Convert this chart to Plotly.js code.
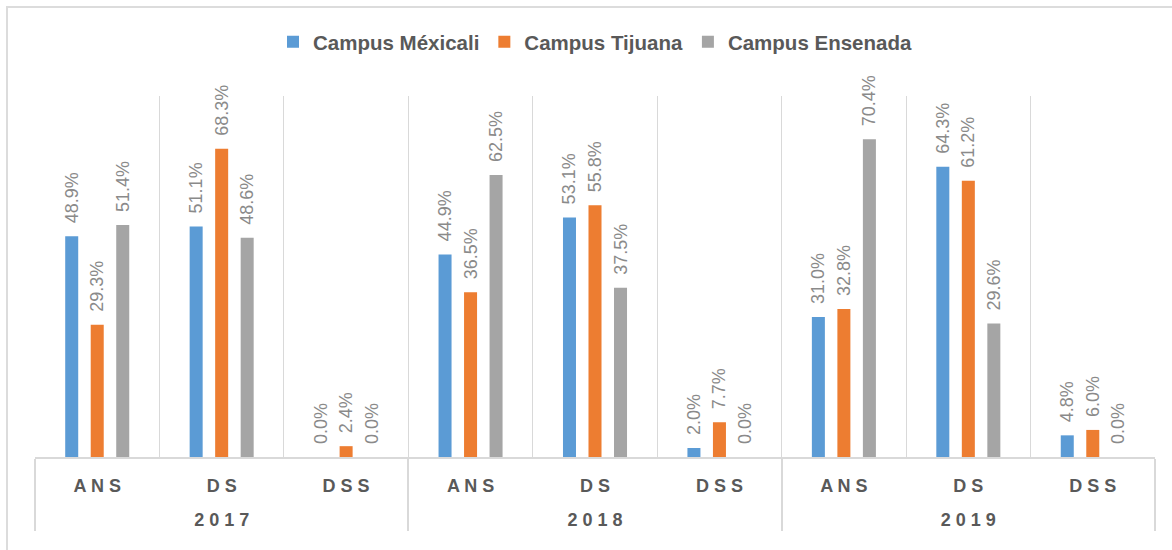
<!DOCTYPE html>
<html>
<head>
<meta charset="utf-8">
<script src="https://cdn.plot.ly/plotly-3.0.1.min.js"></script>
<style>
  html, body { margin: 0; padding: 0; background: #ffffff; }
  #wrap { position: relative; width: 1172px; height: 550px; overflow: hidden; }
  #chart { width: 1172px; height: 550px; }
  #frame { position: absolute; left: 6px; top: 6px; width: 1300px; height: 700px;
           border: 2px solid #dcdcdc; pointer-events: none; }
</style>
</head>
<body>
<div id="wrap">
  <div id="chart"></div>
  <div id="frame"></div>
</div>
<script>
// ---- data ----
const years = ["2 0 1 7", "2 0 1 8", "2 0 1 9"];
const categories = ["A N S", "D S", "D S S"];
const seriesNames = ["Campus Méxicali", "Campus Tijuana", "Campus Ensenada"];
const seriesColors = ["#5b9bd5", "#ed7d31", "#a5a5a5"];

// values in %, ordered 2017 ANS, DS, DSS, 2018 ANS, DS, DSS, 2019 ANS, DS, DSS
const mexicali = [48.9, 51.1, 0.0, 44.9, 53.1, 2.0, 31.0, 64.3, 4.8];
const tijuana  = [29.3, 68.3, 2.4, 36.5, 55.8, 7.7, 32.8, 61.2, 6.0];
const ensenada = [51.4, 48.6, 0.0, 62.5, 37.5, 0.0, 70.4, 29.6, 0.0];

const seriesValues = [mexicali, tijuana, ensenada];

// ---- build multicategory x ----
const xYears = [], xCats = [];
years.forEach(y => categories.forEach(c => { xYears.push("<br>" + y); xCats.push(c); }));

const pad = "\u00a0\u00a0";
const traces = seriesValues.map((vals, i) => ({
  type: "bar",
  name: seriesNames[i],
  x: [xYears, xCats],
  y: vals,
  marker: { color: seriesColors[i] },
  text: vals.map(v => pad + v.toFixed(1) + "%"),
  textposition: "outside",
  textangle: -90,
  constraintext: "none",
  cliponaxis: false,
  textfont: { family: "Liberation Sans, Arial, sans-serif", size: 18, color: "#8a8a8a" },
  hoverinfo: "skip"
}));

const layout = {
  width: 1172,
  height: 550,
  margin: { l: 35, r: 17, t: 96, b: 93 },
  paper_bgcolor: "#ffffff",
  plot_bgcolor: "#ffffff",
  barmode: "group",
  bargap: 0.385,
  bargroupgap: 0.49,
  showlegend: true,
  legend: {
    orientation: "h",
    x: 0.5, xref: "paper", xanchor: "center",
    y: 1.15, yanchor: "middle",
    font: { family: "Liberation Sans, Arial, sans-serif", size: 20.5, color: "#595959", weight: "bold" },
    itemclick: false
  },
  xaxis: {
    type: "multicategory",
    tickson: "boundaries",
    ticks: "",
    ticklabelstandoff: 11,
    showgrid: true,
    gridcolor: "#d9d9d9",
    gridwidth: 1,
    showline: true,
    linecolor: "#d9d9d9",
    linewidth: 2,
    showdividers: true,
    dividercolor: "#d9d9d9",
    dividerwidth: 2,
    tickfont: { family: "Liberation Sans, Arial, sans-serif", size: 18, color: "#595959", weight: "bold" },
    fixedrange: true
  },
  yaxis: {
    range: [0, 80],
    visible: false,
    showgrid: false,
    zeroline: false,
    fixedrange: true
  }
};

Plotly.newPlot("chart", traces, layout, { displayModeBar: false, staticPlot: true });
</script>
</body>
</html>
